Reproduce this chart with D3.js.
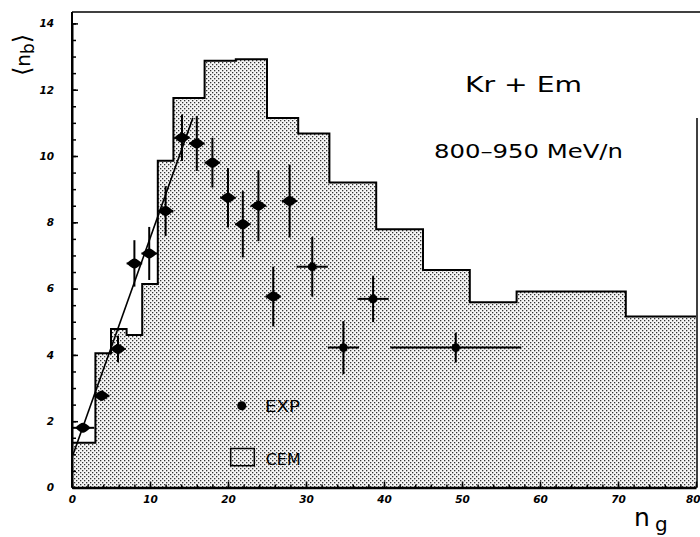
<!DOCTYPE html>
<html><head><meta charset="utf-8">
<script src="https://cdn.jsdelivr.net/npm/d3@7"></script>
<style>body{margin:0;background:#fff;} svg{display:block}</style>
</head><body><svg id="c" width="700" height="537"></svg>
<script>
// CEM histogram (bin edges and mean values)
const binEdges  = [0, 3, 5, 7, 9, 11, 13, 17, 21, 25, 29, 33, 39, 45, 51, 57, 71, 80];
const cemValues = [1.35, 4.05, 4.78, 4.6, 6.14, 9.86, 11.75, 12.87, 12.92, 11.15, 10.68, 9.2, 7.79, 6.56, 5.59, 5.91, 5.16];
// Experimental points
const expX    = [1.4, 3.8, 5.9, 8.0, 9.9, 12.0, 14.1, 16.0, 18.0, 20.0, 21.9, 23.9, 25.8, 27.9, 30.8, 34.8, 38.6, 49.2];
const expY    = [1.80, 2.77, 4.18, 6.76, 7.06, 8.34, 10.55, 10.38, 9.80, 8.74, 7.94, 8.50, 5.76, 8.64, 6.66, 4.22, 5.69, 4.22];
const expYErr = [0.1, 0.15, 0.4, 0.7, 0.8, 0.75, 0.7, 0.83, 0.75, 0.9, 1.0, 1.07, 0.9, 1.1, 0.9, 0.8, 0.7, 0.45];
const expXErr = [1.45, 1, 1, 1, 1, 1, 1, 1, 1, 1, 1, 1, 1, 1, 2, 2, 2, 8.4];
// Linear fit
const fitX = [0.15, 15.5];
const fitY = [1.0, 11.15];
// Ticks
const xTickLabels = [0, 10, 20, 30, 40, 50, 60, 70, 80];
const yTickLabels = [0, 2, 4, 6, 8, 10, 12, 14];

const svg = d3.select("#c");
const x = d3.scaleLinear().domain([0, 80]).range([72, 696]);
const y = d3.scaleLinear().domain([0, 14]).range([487.5, 23.4]);

const defs = svg.append("defs");
const pat = defs.append("pattern").attr("id", "stip").attr("patternUnits", "userSpaceOnUse")
  .attr("width", 4).attr("height", 4);
pat.append("rect").attr("width", 4).attr("height", 4).attr("fill", "#f6f6f6");
pat.append("rect").attr("x", 0).attr("y", 0).attr("width", 1.3).attr("height", 1.3).attr("fill", "#333");
pat.append("rect").attr("x", 2).attr("y", 2).attr("width", 1.3).attr("height", 1.3).attr("fill", "#333");

// histogram
const histData = binEdges.map((e, i) => ({ x: e, v: cemValues[Math.min(i, cemValues.length - 1)] }));
svg.append("path").datum(histData)
  .attr("d", d3.area().x(d => x(d.x)).y0(y(0)).y1(d => y(d.v)).curve(d3.curveStepAfter))
  .attr("fill", "url(#stip)");
svg.append("path").datum(histData)
  .attr("d", d3.line().x(d => x(d.x)).y(d => y(d.v)).curve(d3.curveStepAfter))
  .attr("fill", "none").attr("stroke", "#000").attr("stroke-width", 2);

// frame
svg.append("line").attr("x1", x(0)).attr("x2", 700).attr("y1", 12).attr("y2", 12)
  .attr("stroke", "#000").attr("stroke-width", 1.5);
svg.append("line").attr("x1", 697).attr("x2", 697).attr("y1", 118).attr("y2", y(0))
  .attr("stroke", "#000").attr("stroke-width", 1.5);
svg.append("line").attr("x1", x(0)).attr("x2", x(0)).attr("y1", 12).attr("y2", y(0))
  .attr("stroke", "#000").attr("stroke-width", 2);

// axes
const font = "'DejaVu Sans', sans-serif";
const gxMinor = svg.append("g").attr("transform", `translate(0,${y(0)})`)
  .call(d3.axisBottom(x).tickValues(d3.range(0, 81, 2)).tickSizeInner(-3).tickSizeOuter(0).tickFormat(""));
const gx = svg.append("g").attr("transform", `translate(0,${y(0)})`)
  .call(d3.axisBottom(x).tickValues(xTickLabels).tickSizeInner(-6).tickSizeOuter(0).tickPadding(8));
const gyMinor = svg.append("g").attr("transform", `translate(${x(0)},0)`)
  .call(d3.axisLeft(y).tickValues(d3.range(0, 14.01, 0.5)).tickSizeInner(-4).tickSizeOuter(0).tickFormat(""));
const gy = svg.append("g").attr("transform", `translate(${x(0)},0)`)
  .call(d3.axisLeft(y).tickValues(yTickLabels).tickSizeInner(-6).tickSizeOuter(0).tickPadding(18));
[gx, gy, gxMinor, gyMinor].forEach(g => {
  g.selectAll("line").attr("stroke", "#000").attr("stroke-width", 1.5);
  g.selectAll("text").attr("font-family", font).attr("font-size", 10.5)
    .attr("font-weight", "bold").attr("font-style", "italic").attr("fill", "#000");
});
gx.selectAll(".tick text").filter(d => d === 80).attr("text-anchor", "end").attr("dx", 4);
gx.select(".domain").attr("stroke", "#000").attr("stroke-width", 2.5);
gxMinor.select(".domain").remove();
gy.select(".domain").attr("stroke", "#000").attr("stroke-width", 2);
gyMinor.select(".domain").remove();

// fit line
svg.append("line").attr("x1", x(fitX[0])).attr("y1", y(fitY[0])).attr("x2", x(fitX[1])).attr("y2", y(fitY[1]))
  .attr("stroke", "#000").attr("stroke-width", 1.6);

// experimental points
const pts = expX.map((v, i) => ({ x: v, y: expY[i], ex: expXErr[i], ey: expYErr[i] }));
const gp = svg.append("g");
gp.selectAll("line.v").data(pts).join("line")
  .attr("x1", d => x(d.x)).attr("x2", d => x(d.x))
  .attr("y1", d => y(d.y + d.ey)).attr("y2", d => y(d.y - d.ey))
  .attr("stroke", "#000").attr("stroke-width", 2);
gp.selectAll("line.h").data(pts).join("line")
  .attr("x1", d => x(d.x - d.ex)).attr("x2", d => x(d.x + d.ex))
  .attr("y1", d => y(d.y)).attr("y2", d => y(d.y))
  .attr("stroke", "#000").attr("stroke-width", 2);
gp.selectAll("path.m").data(pts.filter(d => d.ex <= 1.5)).join("path")
  .attr("d", d => {
    const cx = x(d.x), cy = y(d.y), w = Math.min(x(d.ex) - x(0), 7.6), h = 5;
    return `M${cx - w},${cy}Q${cx - w * 0.35},${cy - h} ${cx},${cy - h}Q${cx + w * 0.35},${cy - h} ${cx + w},${cy}Q${cx + w * 0.35},${cy + h} ${cx},${cy + h}Q${cx - w * 0.35},${cy + h} ${cx - w},${cy}Z`;
  })
  .attr("fill", "#000");
gp.selectAll("circle").data(pts).join("circle")
  .attr("cx", d => x(d.x)).attr("cy", d => y(d.y)).attr("r", 4.3).attr("fill", "#000");

// legend
const tfont = "'DejaVu Sans', sans-serif";
svg.append("circle").attr("cx", 241.7).attr("cy", 405.7).attr("r", 4.5).attr("fill", "#000");
svg.append("text").attr("x", 265).attr("y", 411.5).text("EXP")
  .attr("font-family", tfont).attr("font-size", 15.5).attr("textLength", 35).attr("lengthAdjust", "spacingAndGlyphs");
svg.append("rect").attr("x", 230.7).attr("y", 448.5).attr("width", 23.6).attr("height", 17.2)
  .attr("fill", "url(#stip)").attr("stroke", "#000").attr("stroke-width", 1.5);
svg.append("text").attr("x", 265.7).attr("y", 464.5).text("CEM")
  .attr("font-family", tfont).attr("font-size", 15.5).attr("textLength", 35).attr("lengthAdjust", "spacingAndGlyphs");

// annotations
svg.append("text").attr("x", 465).attr("y", 92.3).text("Kr + Em")
  .attr("font-family", tfont).attr("font-size", 21.5).attr("textLength", 117).attr("lengthAdjust", "spacingAndGlyphs");
svg.append("text").attr("x", 434).attr("y", 157.7).text("800–950 MeV/n")
  .attr("font-family", tfont).attr("font-size", 19.5).attr("textLength", 189).attr("lengthAdjust", "spacingAndGlyphs");

// y label
const yl = svg.append("text").attr("transform", "translate(30,55) rotate(-90)")
  .attr("text-anchor", "middle").attr("font-family", tfont).attr("font-size", 20);
yl.append("tspan").attr("font-size", 24).text("⟨");
yl.append("tspan").text("n");
yl.append("tspan").attr("font-size", 17).attr("dy", 4).text("b");
yl.append("tspan").attr("font-size", 24).attr("dy", -4).text("⟩");

// x label
svg.append("text").attr("x", 634).attr("y", 526).text("n")
  .attr("font-family", tfont).attr("font-size", 25);
svg.append("text").attr("x", 655).attr("y", 531).text("g")
  .attr("font-family", tfont).attr("font-size", 20);
</script>
</body></html>
